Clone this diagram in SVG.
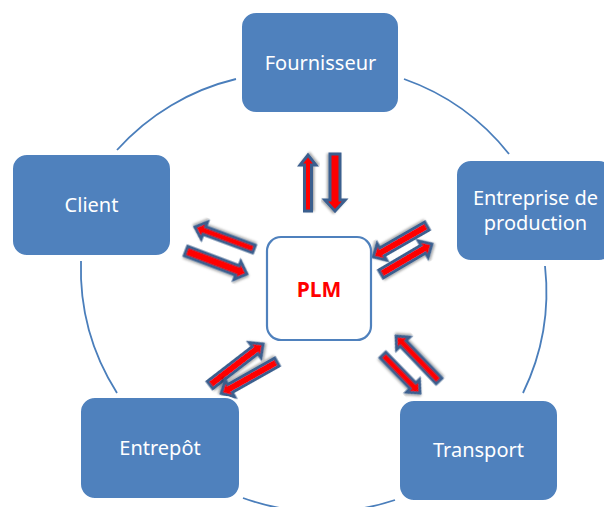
<svg xmlns="http://www.w3.org/2000/svg" width="604" height="507" viewBox="0 0 604 507">
<defs>
<style>
.arc{fill:none;stroke:#4A7EBB;stroke-width:1.8}
.arr{fill:#FF0000;stroke:#3B5E8E;stroke-width:3;stroke-linejoin:miter;filter:url(#sh)}
.node rect{fill:#4F81BD;stroke:#FFFFFF;stroke-width:2}
.node text{fill:#FFFFFF;font-family:"Noto Sans","Open Sans",sans-serif;font-size:20px;text-anchor:middle}
#plm rect{fill:#FFFFFF;stroke:#4F81BD;stroke-width:2.2}
#plm text{fill:#FF0000;font-family:"Noto Sans","Open Sans",sans-serif;font-size:21px;font-weight:bold;text-anchor:middle}
</style>
<filter id="sh" x="-20%" y="-20%" width="140%" height="140%">
<feDropShadow dx="1" dy="1.5" stdDeviation="1" flood-color="#000" flood-opacity="0.35"/>
</filter>
</defs>
<g id="connectors">
<path class="arc" d="M404,79 A232,232 0 0 1 509,154"/>
<path class="arc" d="M545,266 A232,232 0 0 1 523,393"/>
<path class="arc" d="M395,500 A232,232 0 0 1 243,498"/>
<path class="arc" d="M117,393 A232,232 0 0 1 81,261"/>
<path class="arc" d="M117,150 A232,232 0 0 1 236,79"/>
<path class="arr" transform="translate(308,211) rotate(-90)" d="M0,-3.5 L46,-3.5 L46,-8 L56,0 L46,8 L46,3.5 L0,3.5 Z"/>
<path class="arr" transform="translate(335,154) rotate(90)" d="M0,-5 L46,-5 L46,-10 L57,0 L46,10 L46,5 L0,5 Z"/>
<path class="arr" transform="translate(254,249) rotate(200.4)" d="M0,-4 L53,-4 L53,-9 L63,0 L53,9 L53,4 L0,4 Z"/>
<path class="arr" transform="translate(186,251) rotate(20.7)" d="M0,-5 L55,-5 L55,-9.5 L65,0 L55,9.5 L55,5 L0,5 Z"/>
<path class="arr" transform="translate(427,226) rotate(150.1)" d="M0,-4.5 L52,-4.5 L52,-9.5 L62,0 L52,9.5 L52,4.5 L0,4.5 Z"/>
<path class="arr" transform="translate(381,274) rotate(-30.5)" d="M0,-4.5 L49,-4.5 L49,-9.5 L59,0 L49,9.5 L49,4.5 L0,4.5 Z"/>
<path class="arr" transform="translate(210,385) rotate(-37.7)" d="M0,-4.5 L57,-4.5 L57,-9.5 L67,0 L57,9.5 L57,4.5 L0,4.5 Z"/>
<path class="arr" transform="translate(277,362) rotate(150.6)" d="M0,-4.5 L54,-4.5 L54,-9.5 L64,0 L54,9.5 L54,4.5 L0,4.5 Z"/>
<path class="arr" transform="translate(439,381) rotate(226.3)" d="M0,-4 L52,-4 L52,-9 L62,0 L52,9 L52,4 L0,4 Z"/>
<path class="arr" transform="translate(383,355) rotate(45.8)" d="M0,-4 L43,-4 L43,-9 L53,0 L43,9 L43,4 L0,4 Z"/>
</g>
<g id="fournisseur" class="node">
<rect x="241" y="12" width="158" height="101" rx="15"/>
<text x="320.5" y="70">Fournisseur</text>
</g>
<g id="entreprise" class="node">
<rect x="456" y="160" width="158" height="101" rx="15"/>
<text x="535.5" y="205">Entreprise de</text>
<text x="535.5" y="230">production</text>
</g>
<g id="transport" class="node">
<rect x="399" y="400" width="159" height="101" rx="15"/>
<text x="478.5" y="457">Transport</text>
</g>
<g id="entrepot" class="node">
<rect x="80" y="397" width="160" height="102" rx="15"/>
<text x="160" y="455">Entrepôt</text>
</g>
<g id="client" class="node">
<rect x="12" y="154" width="159" height="102" rx="15"/>
<text x="91.5" y="212">Client</text>
</g>
<g id="plm">
<rect x="267" y="237" width="104" height="103" rx="14"/>
<text x="319" y="297">PLM</text>
</g>
</svg>
